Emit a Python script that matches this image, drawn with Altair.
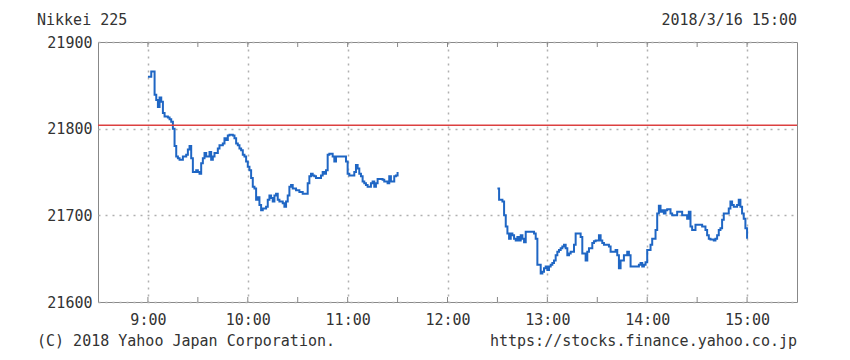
import altair as alt
import pandas as pd

# Morning session: minutes after 9:00 and price
am_min = [0, 2, 4, 5, 6, 7, 8, 9, 10, 12, 13, 14, 15, 16, 17, 18, 19, 21, 23, 24, 25, 26, 27, 29, 30,
          31, 32, 33, 34, 35, 37, 38, 39, 40, 42, 43, 45, 46, 47, 48, 49, 51, 52, 53, 54, 55, 56, 57,
          58, 59, 60, 61, 62, 63, 64, 65, 66, 67, 68, 69, 71, 72, 73, 74, 75, 76, 77, 78, 79, 81, 82,
          83, 84, 85, 86, 87, 89, 91, 93, 96, 97, 98, 99, 100, 101, 104, 105, 106, 107, 108, 109, 111,
          112, 113, 118, 119, 120, 121, 124, 125, 126, 127, 128, 129, 130, 131, 132, 134, 135, 136,
          137, 138, 141, 142, 144, 145, 146, 148, 149, 150]
am_val = [21860, 21866, 21839, 21833, 21825, 21836, 21831, 21818, 21814, 21813, 21811, 21808, 21800,
          21780, 21768, 21766, 21764, 21768, 21770, 21776, 21780, 21766, 21750, 21752, 21750, 21748,
          21760, 21766, 21772, 21768, 21773, 21764, 21768, 21772, 21777, 21781, 21783, 21789, 21787,
          21792, 21793, 21792, 21789, 21783, 21781, 21777, 21775, 21770, 21768, 21762, 21756, 21752,
          21743, 21733, 21731, 21718, 21721, 21712, 21706, 21708, 21710, 21718, 21723, 21720, 21716,
          21723, 21725, 21718, 21716, 21714, 21710, 21716, 21723, 21733, 21735, 21731, 21729, 21727,
          21725, 21737, 21745, 21748, 21746, 21745, 21743, 21746, 21750, 21748, 21752, 21770, 21771,
          21768, 21762, 21768, 21768, 21762, 21748, 21746, 21750, 21758, 21754, 21748, 21745, 21739,
          21737, 21735, 21733, 21737, 21739, 21733, 21737, 21742, 21741, 21739, 21737, 21745, 21739,
          21745, 21746, 21750]

# Afternoon session: minutes after 12:30 and price
pm_min = [0, 1, 3, 4, 5, 6, 7, 8, 9, 10, 11, 12, 13, 14, 15, 16, 17, 22, 23, 24, 26, 27, 28, 29, 30,
          31, 32, 33, 34, 35, 36, 37, 38, 39, 40, 41, 42, 43, 44, 46, 47, 49, 50, 51, 53, 54, 55, 57,
          58, 59, 61, 62, 63, 64, 67, 68, 71, 72, 73, 74, 76, 78, 79, 80, 85, 86, 87, 88, 89, 90, 92,
          93, 95, 96, 97, 98, 99, 100, 101, 102, 104, 105, 108, 111, 114, 115, 116, 117, 119, 123, 125,
          126, 127, 128, 130, 131, 132, 133, 134, 135, 136, 139, 140, 141, 142, 144, 145, 146, 147,
          148, 149, 150]
pm_val = [21731, 21718, 21716, 21700, 21687, 21679, 21673, 21679, 21677, 21673, 21671, 21675, 21671,
          21677, 21673, 21669, 21681, 21679, 21673, 21643, 21633, 21635, 21639, 21641, 21637, 21641,
          21643, 21645, 21648, 21654, 21658, 21660, 21662, 21664, 21666, 21662, 21654, 21656, 21658,
          21666, 21679, 21679, 21675, 21656, 21648, 21658, 21662, 21668, 21670, 21671, 21677, 21671,
          21668, 21666, 21664, 21658, 21660, 21654, 21639, 21648, 21654, 21658, 21654, 21641, 21643,
          21645, 21641, 21643, 21646, 21660, 21666, 21673, 21683, 21702, 21711, 21704, 21706, 21702,
          21706, 21707, 21702, 21700, 21704, 21700, 21696, 21704, 21687, 21683, 21689, 21687, 21683,
          21677, 21673, 21672, 21671, 21673, 21677, 21683, 21685, 21695, 21702, 21708, 21716, 21712,
          21710, 21712, 21718, 21710, 21702, 21696, 21685, 21673]

prev_close = 21804
hour_ticks = [540, 600, 660, 720, 780, 840, 900]
half_ticks = [540, 570, 600, 630, 660, 690, 720, 750, 780, 810, 840, 870, 900]
y_ticks = [21600, 21700, 21800, 21900]

rows = [{"t": 540 + m, "v": v, "s": "am"} for m, v in zip(am_min, am_val)]
rows += [{"t": 750 + m, "v": v, "s": "pm"} for m, v in zip(pm_min, pm_val)]
df = pd.DataFrame(rows)
ticks_df = pd.DataFrame({"t": half_ticks})

FONT = "DejaVu Sans Mono"
FS = 15
W, H = 699, 260

xscale = alt.Scale(domain=[510, 930], nice=False, zero=False)
yscale = alt.Scale(domain=[21600, 21900], nice=False, zero=False)

line = alt.Chart(df).mark_line(interpolate="step-after", color="#1f66c4", strokeWidth=2).encode(
    x=alt.X("t:Q", scale=xscale,
            axis=alt.Axis(values=hour_ticks, title=None, grid=True, gridDash=[2, 5],
                          gridColor="#b0b0b0", gridOpacity=1, gridWidth=1.5, ticks=False, domain=False,
                          labelExpr="floor(datum.value/60) + ':00'", labelFont=FONT,
                          labelFontSize=FS, labelColor="#333", labelPadding=10)),
    y=alt.Y("v:Q", scale=yscale,
            axis=alt.Axis(values=y_ticks, title=None, grid=True, gridDash=[2, 5], format="d",
                          gridColor="#b0b0b0", gridOpacity=1, gridWidth=1.5, ticks=False, domain=False,
                          labelFont=FONT, labelFontSize=FS, labelColor="#333", labelPadding=6)),
    detail="s:N",
)

ref = alt.Chart(pd.DataFrame({"p": [prev_close]})).mark_rule(color="#dc4040", strokeWidth=1.5).encode(
    y=alt.Y("p:Q", scale=yscale)
)

top_ticks = alt.Chart(ticks_df).mark_rule(color="#888", strokeWidth=1).encode(
    x=alt.X("t:Q", scale=xscale), y=alt.value(0), y2=alt.value(5)
)
bot_ticks = alt.Chart(ticks_df).mark_rule(color="#888", strokeWidth=1).encode(
    x=alt.X("t:Q", scale=xscale), y=alt.value(H - 5), y2=alt.value(H)
)

one = pd.DataFrame({"a": [0]})


def label(txt, x, y, align):
    return alt.Chart(one).mark_text(text=txt, font=FONT, fontSize=FS, color="#333",
                                    align=align, baseline="middle").encode(
        x=alt.value(x), y=alt.value(y))


t1 = label("Nikkei 225", -61, -22, "left")
t2 = label("2018/3/16 15:00", W, -22, "right")
t3 = label("(C) 2018 Yahoo Japan Corporation.", -61, 299, "left")
t4 = label("https://stocks.finance.yahoo.co.jp", W, 299, "right")

chart = alt.layer(line, ref, top_ticks, bot_ticks, t1, t2, t3, t4).properties(
    width=W, height=H,
    autosize=alt.AutoSizeParams(type="none"),
    padding={"left": 98, "top": 42, "right": 53, "bottom": 58},
    background="white",
).configure_view(stroke="#888", strokeWidth=1)

chart.save("out.html", embed_options={"renderer": "svg", "actions": False})
